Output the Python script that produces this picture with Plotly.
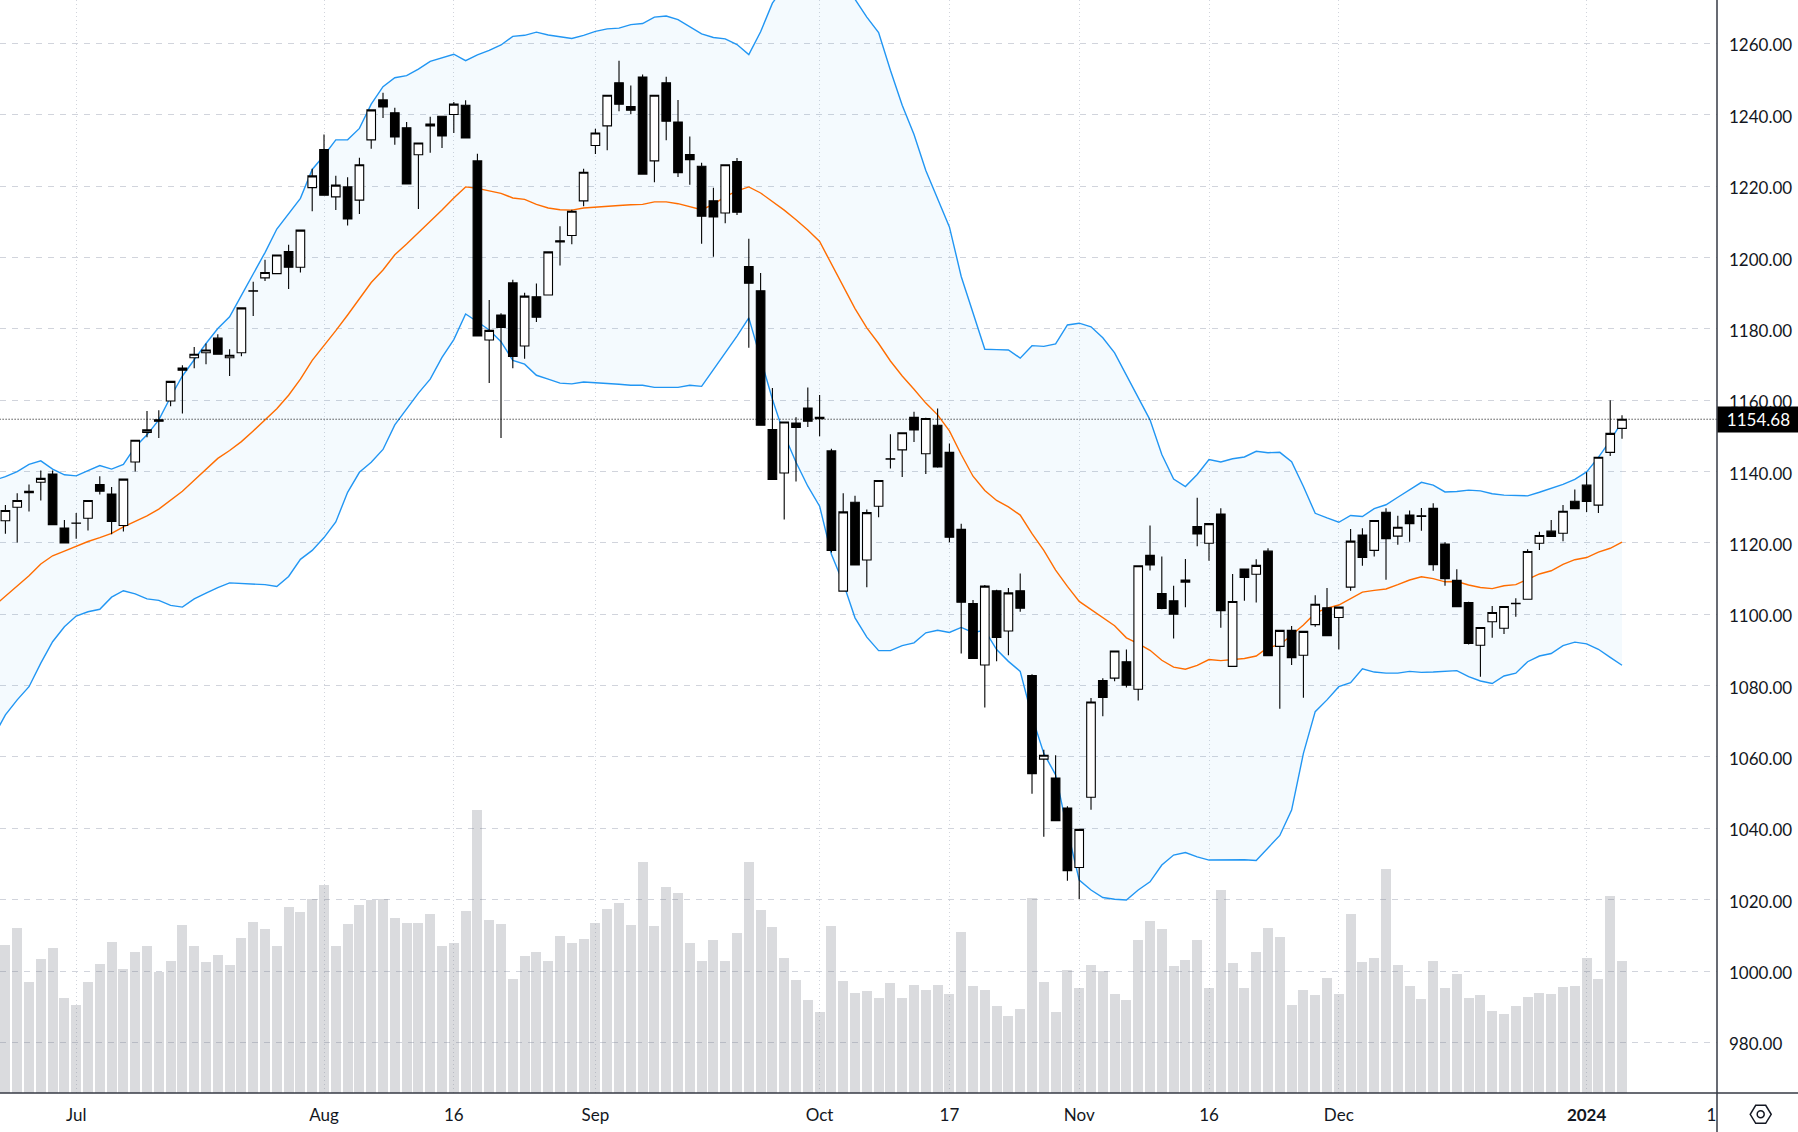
import plotly.graph_objects as go

# daily bars
open_ = [1126.2,1130.0,1134.5,1137.0,1139.3,1124.2,1125.6,1126.9,1136.4,1133.7,
    1124.9,1142.7,1151.0,1154.5,1159.8,1169.0,1171.9,1173.3,1177.4,1171.9,
    1173.3,1190.7,1194.3,1195.5,1201.7,1197.3,1219.6,1230.3,1217.0,1219.8,
    1216.1,1233.0,1244.2,1240.6,1236.4,1228.8,1237.4,1239.6,1240.1,1242.7,
    1227.1,1176.9,1183.9,1192.9,1175.2,1189.0,1189.5,1204.7,1206.2,1215.9,
    1231.4,1236.9,1249.0,1242.3,1250.6,1227.1,1249.0,1238.0,1228.9,1225.6,
    1215.9,1212.5,1226.9,1197.5,1190.7,1151.8,1139.6,1153.6,1157.8,1155.2,
    1145.8,1106.5,1131.4,1115.2,1130.3,1143.6,1146.1,1155.2,1145.0,1153.0,
    1145.4,1123.8,1103.0,1085.8,1106.6,1095.3,1106.6,1082.8,1059.4,1054.1,
    1045.7,1029.0,1048.7,1081.4,1082.1,1086.7,1079.0,1116.5,1105.8,1103.8,
    1109.0,1124.6,1119.9,1128.1,1085.4,1112.7,1111.2,1117.7,1091.0,1095.5,
    1088.5,1097.1,1101.8,1099.1,1107.6,1122.2,1117.9,1128.6,1121.9,1127.8,
    1127.6,1129.7,1119.7,1109.5,1103.3,1091.3,1097.9,1096.1,1103.1,1104.2,
    1119.9,1123.3,1122.7,1131.7,1136.2,1130.6,1145.4,1152.1]

high = [1130.6,1133.9,1136.4,1140.3,1140.3,1126.4,1128.4,1131.9,1138.7,1135.7,
    1137.9,1148.8,1157.0,1157.2,1165.3,1169.8,1174.9,1175.9,1178.5,1174.3,
    1185.9,1193.2,1199.4,1200.7,1203.6,1207.7,1224.9,1234.5,1222.9,1222.5,
    1228.0,1241.4,1246.2,1242.0,1238.0,1232.1,1239.5,1239.6,1243.6,1244.1,
    1229.1,1188.1,1184.4,1193.8,1190.1,1192.7,1201.8,1208.8,1213.4,1224.9,
    1236.1,1245.5,1255.2,1248.2,1251.3,1245.5,1250.7,1244.2,1233.9,1226.6,
    1219.6,1226.0,1227.9,1205.3,1195.7,1163.4,1153.9,1155.2,1163.6,1161.5,
    1146.4,1133.9,1133.2,1129.4,1137.5,1150.5,1150.9,1156.8,1155.1,1157.7,
    1147.9,1125.4,1104.0,1108.2,1106.9,1107.4,1111.4,1083.2,1062.0,1060.5,
    1046.2,1039.7,1076.5,1082.1,1089.7,1090.1,1113.6,1124.9,1116.2,1108.0,
    1115.5,1132.7,1125.4,1129.7,1111.3,1112.7,1115.4,1118.5,1095.5,1096.7,
    1095.4,1105.3,1107.4,1102.1,1123.9,1124.1,1126.3,1129.7,1127.6,1129.1,
    1129.8,1131.1,1120.2,1112.6,1103.5,1096.3,1102.3,1102.2,1104.5,1118.2,
    1123.1,1126.4,1130.6,1135.0,1139.8,1144.0,1160.0,1155.8]

low = [1122.6,1120.1,1128.8,1131.9,1125.1,1120.0,1121.2,1123.5,1133.6,1122.4,
    1123.2,1140.0,1149.6,1149.4,1158.3,1156.3,1169.0,1170.1,1172.9,1166.8,
    1172.3,1183.6,1193.4,1195.5,1191.2,1195.8,1213.0,1217.5,1213.3,1209.0,
    1212.2,1230.5,1239.1,1231.6,1220.6,1213.6,1229.4,1230.7,1234.9,1233.5,
    1178.0,1164.8,1149.4,1169.0,1171.6,1181.9,1189.5,1197.8,1203.7,1214.4,
    1229.0,1230.1,1241.0,1240.2,1223.4,1221.1,1232.9,1222.6,1220.4,1203.9,
    1200.2,1209.6,1211.9,1174.7,1153.0,1137.8,1126.6,1137.2,1152.5,1149.9,
    1117.3,1106.5,1113.8,1107.6,1127.2,1140.9,1138.5,1148.3,1139.3,1141.1,
    1120.2,1089.0,1087.6,1073.9,1086.8,1088.5,1100.7,1049.7,1037.6,1042.1,
    1025.3,1020.1,1045.2,1071.4,1081.2,1079.5,1075.8,1112.3,1101.4,1093.2,
    1102.0,1119.1,1115.0,1096.2,1085.4,1103.8,1103.3,1088.4,1073.5,1085.8,
    1076.6,1096.5,1094.0,1090.1,1106.6,1113.6,1116.2,1109.7,1119.5,1120.3,
    1123.4,1112.2,1108.0,1102.1,1091.5,1082.5,1093.4,1094.5,1099.3,1104.2,
    1118.0,1121.8,1120.5,1129.6,1128.7,1128.4,1144.4,1149.2]

close = [1129.1,1131.9,1134.1,1138.1,1125.1,1120.0,1125.5,1131.9,1134.5,1126.0,
    1137.9,1148.8,1151.7,1154.1,1165.3,1168.4,1172.9,1174.1,1172.9,1172.6,
    1185.9,1190.6,1195.8,1200.7,1197.3,1207.7,1222.9,1217.5,1220.3,1210.8,
    1226.0,1241.4,1242.2,1233.8,1220.6,1232.1,1236.9,1234.1,1243.0,1233.5,
    1178.0,1179.6,1180.4,1172.3,1189.2,1183.3,1201.6,1204.4,1213.0,1223.9,
    1234.9,1245.5,1243.0,1241.3,1223.4,1245.5,1238.2,1223.8,1227.4,1211.6,
    1211.4,1226.0,1212.7,1192.8,1153.0,1137.8,1153.9,1152.4,1154.1,1154.8,
    1117.9,1128.7,1113.8,1128.5,1137.5,1143.5,1150.9,1151.7,1154.9,1141.3,
    1121.6,1103.4,1087.6,1107.9,1093.5,1106.0,1101.7,1055.3,1060.5,1042.1,
    1028.1,1039.7,1075.4,1076.7,1089.7,1080.1,1113.6,1113.8,1101.6,1100.0,
    1109.6,1122.5,1125.4,1101.0,1103.6,1110.3,1113.7,1088.4,1095.5,1087.8,
    1095.2,1102.8,1094.0,1102.0,1120.5,1115.9,1126.3,1121.2,1124.4,1125.4,
    1127.4,1113.9,1110.0,1102.1,1091.8,1096.3,1100.5,1102.2,1103.0,1117.6,
    1122.1,1121.8,1128.9,1129.6,1131.6,1144.0,1150.7,1154.68]

volume = [148,165,111,134,145,95,88,111,129,151,
    124,141,147,121,132,168,147,131,138,128,
    155,171,164,147,186,181,194,208,147,169,
    188,193,194,175,170,170,179,147,150,182,
    283,173,169,114,137,141,132,157,150,154,
    170,184,190,168,231,167,206,200,150,132,
    153,132,160,231,183,166,135,113,93,81,
    167,112,100,102,95,110,95,108,103,108,
    99,161,107,103,87,77,84,195,111,81,
    123,105,128,122,99,93,153,172,164,127,
    133,153,105,203,130,105,141,165,156,88,
    103,98,115,99,179,131,135,224,128,107,
    94,132,105,119,95,98,82,79,87,96,
    100,99,106,107,135,114,197,132]

# bollinger bands as drawn, first point is the bar just off the left edge
# (upper runs off the top of the chart in late Sep)
bb_upper = [1137.5,
    1138.6,1140.0,1142.0,1143.0,1140.7,1139.1,1138.8,1140.3,1141.7,1140.7,
    1142.0,1146.9,1150.3,1154.5,1160.9,1166.8,1171.4,1175.9,1180.1,1183.4,
    1189.4,1195.3,1201.4,1208.0,1212.3,1216.6,1224.7,1228.6,1233.0,1233.0,
    1236.2,1243.0,1247.9,1250.4,1251.0,1252.8,1255.0,1256.0,1257.0,1255.2,
    1256.8,1258.1,1259.6,1262.0,1262.3,1263.2,1262.4,1261.9,1261.4,1262.3,
    1263.4,1264.1,1264.3,1265.3,1265.6,1267.4,1267.7,1266.7,1264.6,1262.7,
    1261.7,1261.3,1259.7,1256.9,1263.3,1271.3,1276.0,1279.0,1280.0,1280.0,
    1279.0,1276.0,1272.4,1267.4,1263.1,1252.5,1242.7,1234.5,1224.4,1216.6,
    1208.6,1194.7,1184.2,1174.3,1174.2,1174.1,1171.8,1175.3,1175.1,1175.8,
    1181.1,1181.6,1180.6,1177.5,1173.3,1167.0,1161.1,1154.5,1144.8,1137.9,
    1135.8,1139.2,1143.4,1142.7,1143.6,1144.1,1145.7,1145.3,1145.4,1142.8,
    1135.8,1128.3,1127.0,1125.8,1127.7,1127.4,1129.6,1130.7,1132.8,1134.9,
    1137.0,1136.2,1134.3,1134.4,1134.8,1134.6,1133.8,1133.4,1133.3,1133.2,
    1134.2,1135.2,1136.4,1137.8,1139.9,1144.0,1148.7,1154.0]

bb_basis = [1102.2,
    1105.0,1107.9,1110.8,1114.1,1116.4,1117.7,1119.1,1120.4,1121.5,1122.7,
    1124.5,1126.1,1127.6,1129.5,1132.0,1134.5,1137.6,1140.6,1143.7,1145.9,
    1148.4,1151.4,1154.5,1157.6,1161.4,1165.9,1171.2,1175.3,1179.5,1183.9,
    1188.3,1193.0,1196.5,1200.8,1203.8,1206.9,1210.0,1213.3,1216.7,1219.8,
    1219.4,1218.8,1218.0,1216.7,1216.3,1214.9,1213.9,1213.4,1213.3,1213.9,
    1214.2,1214.3,1214.6,1214.8,1214.9,1215.6,1215.6,1215.1,1214.3,1213.4,
    1214.9,1217.1,1218.7,1219.8,1218.1,1215.8,1213.3,1210.6,1207.7,1204.5,
    1198.3,1192.3,1185.7,1180.3,1175.9,1171.0,1166.8,1163.1,1159.2,1155.9,
    1151.4,1144.8,1138.7,1134.7,1131.9,1130.1,1127.8,1122.6,1117.9,1112.4,
    1107.8,1103.6,1101.3,1099.0,1096.8,1093.4,1091.8,1089.9,1087.1,1085.2,
    1084.6,1085.7,1087.3,1087.0,1087.2,1087.6,1088.3,1090.7,1091.4,1094.2,
    1097.0,1100.3,1101.7,1102.6,1104.3,1106.2,1106.7,1107.1,1108.3,1109.6,
    1110.5,1110.0,1109.1,1109.2,1108.2,1107.5,1107.2,1108.0,1108.3,1109.8,
    1111.3,1112.2,1114.0,1115.3,1115.9,1117.4,1118.5,1120.2]

bb_lower = [1065.7,
    1071.8,1076.0,1079.7,1086.3,1092.3,1096.5,1099.5,1100.7,1101.4,1104.8,
    1106.6,1105.7,1104.3,1103.9,1102.5,1102.0,1104.3,1105.9,1107.5,1108.8,
    1108.6,1108.5,1108.3,1107.8,1110.6,1115.4,1117.9,1121.5,1125.9,1134.2,
    1139.8,1142.6,1146.2,1153.1,1157.5,1162.0,1165.9,1172.0,1177.0,1184.2,
    1182.0,1179.7,1176.4,1171.2,1170.1,1167.0,1165.9,1164.8,1164.6,1165.1,
    1164.9,1164.8,1164.5,1164.2,1164.2,1163.6,1163.6,1163.6,1164.2,1163.9,
    1168.6,1173.3,1178.0,1183.1,1172.0,1160.3,1150.3,1142.6,1135.9,1130.3,
    1116.8,1108.8,1099.0,1093.6,1089.8,1089.8,1091.2,1092.0,1094.8,1095.5,
    1094.9,1096.3,1094.9,1095.5,1090.1,1086.8,1084.0,1071.3,1061.0,1055.0,
    1039.5,1025.5,1022.7,1020.6,1020.1,1019.9,1022.7,1025.0,1029.7,1032.5,
    1033.2,1032.0,1031.1,1031.1,1031.3,1031.2,1031.0,1034.6,1038.0,1045.1,
    1061.0,1072.7,1076.0,1079.7,1080.8,1084.7,1083.8,1083.5,1083.5,1084.0,
    1083.7,1083.8,1084.1,1084.2,1082.5,1081.3,1080.6,1082.7,1083.5,1086.7,
    1088.3,1089.0,1091.2,1092.2,1091.7,1090.2,1087.9,1085.7]

last_price = 1154.68
price_ticks = list(range(980, 1261, 20))
date_ticks = [6, 27, 38, 50, 69, 80, 91, 102, 113, 134, 145]
date_labels = ['Jul', 'Aug', '16', 'Sep', 'Oct', '17', 'Nov', '16', 'Dec', '<b>2024</b>', '16']

bars = list(range(len(close)))
band_bars = [-1] + bars

FONT = 'Lato'
TEXT = '#131722'
GRID = '#d1d4dc'
BLUE = '#2196f3'
ORANGE = '#ff6d00'

W, H = 1798, 1132
PLOT_W, PLOT_H = 1717, 1093
PRICE_RANGE = [965.8, 1272.2]


def px(x):
    return x / PLOT_W


def py(y):
    return 1 - y / PLOT_H


fig = go.Figure()

# volume sits at the back on its own hidden axis
fig.add_trace(go.Bar(
    x=bars, y=volume, yaxis='y', width=0.85,
    marker=dict(color='rgba(120,123,134,0.27)', line_width=0),
))

fig.add_trace(go.Scatter(
    x=band_bars, y=bb_upper, yaxis='y2', mode='lines',
    line=dict(color=BLUE, width=1.4),
))
fig.add_trace(go.Scatter(
    x=band_bars, y=bb_lower, yaxis='y2', mode='lines',
    line=dict(color=BLUE, width=1.4),
    fill='tonexty', fillcolor='rgba(33,150,243,0.05)',
))
fig.add_trace(go.Scatter(
    x=band_bars, y=bb_basis, yaxis='y2', mode='lines',
    line=dict(color=ORANGE, width=1.4),
))

# third axis so the candles end up on top of the band lines
fig.add_trace(go.Candlestick(
    x=bars, open=open_, high=high, low=low, close=close, yaxis='y3',
    increasing=dict(line=dict(color='black', width=1.1), fillcolor='white'),
    decreasing=dict(line=dict(color='black', width=1.1), fillcolor='black'),
))

# hexagon settings icon in the corner
cx, cy = 1760.7, 1114.3
hexagon = [(cx - 10.5, cy), (cx - 5, cy - 9), (cx + 5, cy - 9),
           (cx + 10.5, cy), (cx + 5, cy + 9), (cx - 5, cy + 9)]
hex_path = 'M ' + ' L '.join(f'{px(x):.5f},{py(y):.5f}' for x, y in hexagon) + ' Z'

shapes = [
    # last price line
    dict(type='line', xref='x', yref='y2', x0=-1, x1=146, y0=last_price, y1=last_price,
         line=dict(color='black', width=1, dash='1px,2px')),
    # hides the right half of the clipped date label
    dict(type='rect', xref='paper', yref='paper', x0=1, x1=px(W), y0=py(PLOT_H + 1), y1=py(H),
         fillcolor='white', line_width=0),
    dict(type='line', xref='paper', yref='paper', x0=1, x1=1, y0=1, y1=py(H),
         line=dict(color='#363a45', width=1.5)),
    dict(type='line', xref='paper', yref='paper', x0=0, x1=px(W), y0=0, y1=0,
         line=dict(color='#363a45', width=1.5)),
    dict(type='path', xref='paper', yref='paper', path=hex_path,
         line=dict(color=TEXT, width=1.5)),
    dict(type='circle', xref='paper', yref='paper',
         x0=px(cx - 3.5), x1=px(cx + 3.5), y0=py(cy + 3.5), y1=py(cy - 3.5),
         line=dict(color=TEXT, width=1.5)),
]

fig.update_layout(
    width=W,
    height=H,
    autosize=False,
    margin=dict(l=0, r=W - PLOT_W, t=0, b=H - PLOT_H, pad=0),
    paper_bgcolor='white',
    plot_bgcolor='white',
    showlegend=False,
    hovermode=False,
    bargap=0,
    boxgap=0.27,
    boxgroupgap=0,
    font=dict(family=FONT, size=17, color=TEXT),
    shapes=shapes,
    xaxis=dict(
        range=[-0.458, 145.05],
        tickmode='array',
        tickvals=date_ticks,
        ticktext=date_labels,
        ticks='',
        ticklabelstandoff=10,
        showgrid=True,
        gridcolor=GRID,
        griddash='1px,3px',
        gridwidth=1,
        zeroline=False,
        showline=False,
        rangeslider=dict(visible=False),
    ),
    yaxis=dict(range=[0, PLOT_H], visible=False, fixedrange=True),
    yaxis2=dict(
        range=PRICE_RANGE,
        overlaying='y',
        side='right',
        tickmode='array',
        tickvals=price_ticks,
        ticktext=[f'{v}.00' for v in price_ticks],
        ticks='',
        ticklabelstandoff=11,
        ticklabelshift=2,
        showgrid=True,
        gridcolor=GRID,
        griddash='6px,6px',
        gridwidth=1,
        zeroline=False,
        showline=False,
    ),
    yaxis3=dict(range=PRICE_RANGE, overlaying='y', visible=False),
    annotations=[dict(
        xref='paper', yref='y2', x=1, y=last_price,
        xanchor='left', yanchor='middle',
        width=W - PLOT_W, height=25,
        align='center',
        text=f'{last_price:.2f}',
        showarrow=False,
        bgcolor='black',
        font=dict(family=FONT, size=17, color='white'),
        borderpad=0,
    )],
)

fig.write_html('out.html', config=dict(displayModeBar=False),
               post_script="document.body.style.margin='0';")
